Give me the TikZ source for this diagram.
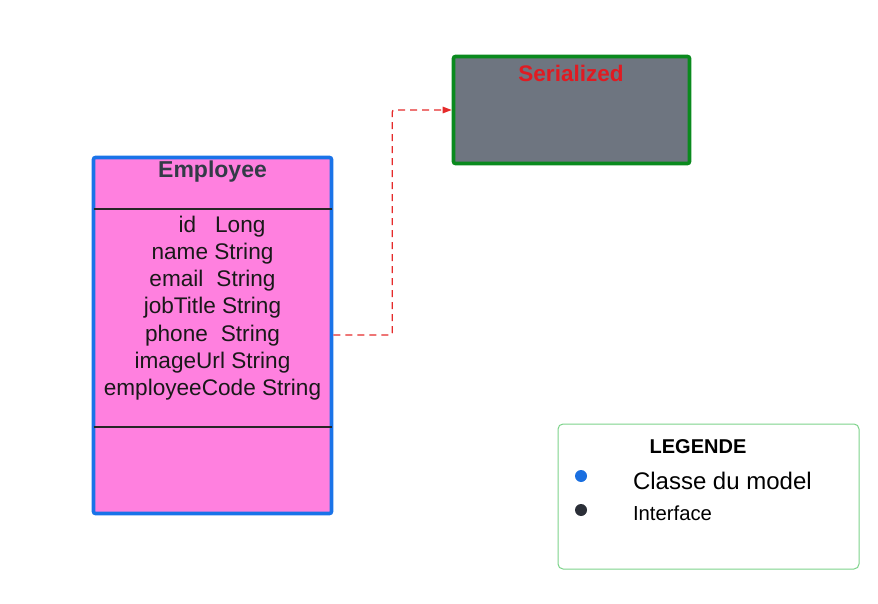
\documentclass[tikz,border=0pt]{standalone}
\usepackage{fontspec}
\setmainfont{Liberation Sans}
\usepackage{tikz}
\usetikzlibrary{calc,arrows.meta}

\definecolor{empfill}{HTML}{FF80DF}
\definecolor{empborder}{HTML}{1A73E8}
\definecolor{serfill}{HTML}{6E7580}
\definecolor{serborder}{HTML}{0A8A1E}
\definecolor{sertext}{HTML}{E01B22}
\definecolor{deplink}{HTML}{E52B2B}
\definecolor{legborder}{HTML}{7CD38A}
\definecolor{titletext}{HTML}{333B47}
\definecolor{dotblue}{HTML}{1A6FE0}
\definecolor{dotdark}{HTML}{2B2F38}

\begin{document}
\begin{tikzpicture}[x=1pt,y=-1pt,inner sep=0pt,outer sep=0pt,
    classbox/.style={draw, rounded corners=2pt, line width=3.6pt, anchor=north west},
    dep/.style={draw=deplink, dashed, dash pattern=on 7pt off 5pt, line width=1.3pt,
        rounded corners=2pt, -{Triangle[length=9pt,width=6.5pt]}}]
    \useasboundingbox (0,0) rectangle (878,604);

    % Employee class
	\node[classbox, fill=empfill, draw=empborder, minimum width=238pt, minimum height=356pt]
    (employee) at (93.5,157.5) {};
    \node[font=\fontsize{23}{27}\selectfont\bfseries, text=titletext] (employee_name)
    at (212.5,171.5) {Employee};
    \draw[line width=1.1pt, black!85] ($(employee.north west)+(0,51.5)$) -- ($(employee.north east)+(0,51.5)$);
    \draw[line width=1.1pt, black!85] ($(employee.north west)+(0,269.5)$) -- ($(employee.north east)+(0,269.5)$);

    % attributes
    \node[align=center, font=\fontsize{22.6}{27.2}\selectfont, text=black!90] (employee_attr)
    at (212.5,308)
    {
    \hspace*{19pt}id\hspace{19pt}Long \\
    name String \\
    email\hspace{13pt}String \\
    jobTitle String \\
    phone\hspace{13pt}String \\
    imageUrl String \\
    employeeCode String
    };

    % Serialized interface
    \node[classbox, fill=serfill, draw=serborder, minimum width=236pt, minimum height=107pt]
    (serialized) at (453.5,56.5) {};
    \node[font=\fontsize{22.5}{27}\selectfont\bfseries, text=sertext] (serialized_name)
    at (571,73) {Serialized};

    % dependency
    \coordinate (dep_start) at ($(employee.north east)+(1.8,177.5)$);
    \draw[dep] (dep_start) -- ++(59,0) |- ($(serialized.west)+(-1.8,0)$);

    % legend
    \node[draw=legborder, line width=1pt, rounded corners=5pt, anchor=north west,
    minimum width=301pt, minimum height=145pt] (legend) at (558,424) {};
    \node[font=\fontsize{20}{24}\selectfont\bfseries] (legend_cap) at (698,446.5) {LEGENDE};
    \fill[dotblue] (581,476) circle (6pt);
    \fill[dotdark] (581,510) circle (6pt);
    \node[anchor=west, font=\fontsize{24}{28}\selectfont] (legend_model) at (633,481) {Classe du model};
    \node[anchor=west, font=\fontsize{20.3}{24}\selectfont] (legend_iface) at (633,513) {Interface};

\end{tikzpicture}
\end{document}
